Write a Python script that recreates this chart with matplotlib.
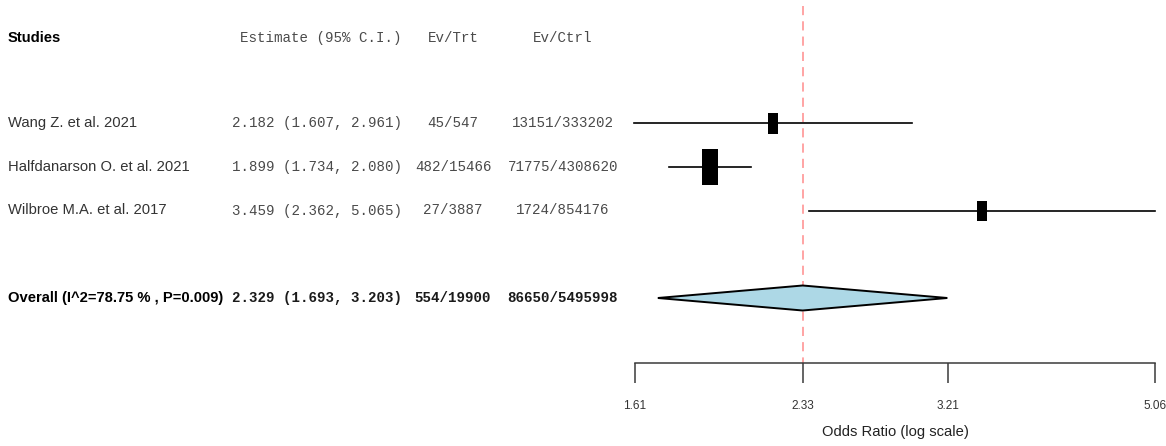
import numpy as np
import matplotlib
matplotlib.use("Agg")
import matplotlib.pyplot as plt
from matplotlib import font_manager
from matplotlib.transforms import blended_transform_factory
from matplotlib.patches import Polygon
from matplotlib.ticker import NullLocator

# ---- study data -------------------------------------------------------
studies = ["Wang Z. et al. 2021", "Halfdanarson O. et al. 2021", "Wilbroe M.A. et al. 2017"]
estimates = [2.182, 1.899, 3.459]
ci_lower = [1.607, 1.734, 2.362]
ci_upper = [2.961, 2.080, 5.065]
events_trt = [45, 482, 27]
total_trt = [547, 15466, 3887]
events_ctrl = [13151, 71775, 1724]
total_ctrl = [333202, 4308620, 854176]

# ---- pooled result ----------------------------------------------------
overall_est = 2.329
overall_lower = 1.693
overall_upper = 3.203
i_squared = 78.75
p_value = 0.009
overall_events_trt, overall_total_trt = 554, 19900
overall_events_ctrl, overall_total_ctrl = 86650, 5495998

tick_values = [1.61, 2.33, 3.21, 5.06]
tick_labels = ["1.61", "2.33", "3.21", "5.06"]

# ---- fonts --------------------------------------------------------------
installed = {f.name for f in font_manager.fontManager.ttflist}
if "Liberation Sans Narrow" in installed:
    SANS, sans_scale = "Liberation Sans Narrow", 1.0
else:
    SANS, sans_scale = "Liberation Sans", 0.82
MONO = "Liberation Mono"

W, H = 1166, 446
fig = plt.figure(figsize=(W / 100, H / 100), dpi=100)
fig.patch.set_facecolor("white")

# plot panel spans the log-scale axis region, full height; rows run downward
ROW0, ROWSTEP = 79.25, 43.75          # pixel position of row 0 and row spacing


def px_to_row(py):
    return (py - ROW0) / ROWSTEP


ax = fig.add_axes([635 / W, 0, 520 / W, 1])
ax.set_xscale("log")
ax.set_xlim(tick_values[0], tick_values[-1])
ax.set_ylim(px_to_row(H), px_to_row(0))
ax.set_facecolor("none")

for side in ("top", "left", "right"):
    ax.spines[side].set_visible(False)
axis_row = px_to_row(363)
ax.spines["bottom"].set_position(("data", axis_row))
ax.spines["bottom"].set_color("#3a3a3a")
ax.spines["bottom"].set_linewidth(1.1)
ax.yaxis.set_visible(False)
ax.xaxis.set_minor_locator(NullLocator())
ax.set_xticks(tick_values)
ax.set_xticklabels(tick_labels)
ax.tick_params(axis="x", direction="out", length=14.4, width=1.1, color="#3a3a3a",
               pad=12, labelsize=8.5, labelcolor="#333333")
for lab in ax.get_xticklabels():
    lab.set_fontfamily(SANS)

ax.text(0.5, px_to_row(432), "Odds Ratio (log scale)",
        transform=blended_transform_factory(ax.transAxes, ax.transData),
        ha="center", va="center", fontsize=13 * sans_scale, family=SANS, color="#222222")

study_rows = [1, 2, 3]
overall_row = 5

# reference line at the pooled estimate
ax.plot([overall_est, overall_est], [px_to_row(6), axis_row], color="#ff8c8c",
        lw=1.1, dashes=(6, 4), zorder=1, clip_on=False)

# confidence intervals and weighted boxes
box_heights_px = [21, 36, 20]
box_shape = [(-0.23, -0.5), (0.23, -0.5), (0.23, 0.5), (-0.23, 0.5)]
for r, est, lo, hi, bh in zip(study_rows, estimates, ci_lower, ci_upper, box_heights_px):
    ax.plot([lo, hi], [r, r], color="black", lw=1.2, zorder=2, clip_on=False)
    ax.plot([est], [r], marker=box_shape, markersize=bh * 0.72, color="black",
            markeredgewidth=0, linestyle="none", zorder=3, clip_on=False)

# pooled diamond
half_h = px_to_row(297 + 12.5) - px_to_row(297)
diamond = Polygon([(overall_lower, overall_row), (overall_est, overall_row - half_h),
                   (overall_upper, overall_row), (overall_est, overall_row + half_h)],
                  closed=True, facecolor="#add8e6", edgecolor="black", lw=1.4, zorder=3)
ax.add_patch(diamond)

# ---- text columns -----------------------------------------------------
tt = blended_transform_factory(fig.transFigure, ax.transData)
NAME_X = 8 / W
EST_RIGHT = 402 / W
TRT_CENTER = 453 / W
CTRL_CENTER = 563 / W
header_row = px_to_row(38)

name_kw = dict(family=SANS, fontsize=13 * sans_scale, va="center", transform=tt)
mono_kw = dict(family=MONO, fontsize=10.15, va="center", transform=tt)

ax.text(NAME_X, header_row, "Studies", weight="bold", color="black", **name_kw)
ax.text(EST_RIGHT, header_row, "Estimate (95% C.I.)", ha="right", color="#4a4a4a", **mono_kw)
ax.text(TRT_CENTER, header_row, "Ev/Trt", ha="center", color="#4a4a4a", **mono_kw)
ax.text(CTRL_CENTER, header_row, "Ev/Ctrl", ha="center", color="#4a4a4a", **mono_kw)

for r, name, est, lo, hi, et, nt, ec, nc in zip(study_rows, studies, estimates, ci_lower,
                                                ci_upper, events_trt, total_trt,
                                                events_ctrl, total_ctrl):
    ax.text(NAME_X, r, name, color="#333333", **name_kw)
    ax.text(EST_RIGHT, r, f"{est:.3f} ({lo:.3f}, {hi:.3f})", ha="right",
            color="#4a4a4a", **mono_kw)
    ax.text(TRT_CENTER, r, f"{et}/{nt}", ha="center", color="#4a4a4a", **mono_kw)
    ax.text(CTRL_CENTER, r, f"{ec}/{nc}", ha="center", color="#4a4a4a", **mono_kw)

ax.text(NAME_X, overall_row, f"Overall (I^2={i_squared:.2f} % , P={p_value:.3f})",
        weight="bold", color="black", **name_kw)
ax.text(EST_RIGHT, overall_row,
        f"{overall_est:.3f} ({overall_lower:.3f}, {overall_upper:.3f})",
        ha="right", weight="bold", color="#1a1a1a", **mono_kw)
ax.text(TRT_CENTER, overall_row, f"{overall_events_trt}/{overall_total_trt}",
        ha="center", weight="bold", color="#1a1a1a", **mono_kw)
ax.text(CTRL_CENTER, overall_row, f"{overall_events_ctrl}/{overall_total_ctrl}",
        ha="center", weight="bold", color="#1a1a1a", **mono_kw)

fig.savefig("out.png", dpi=100, facecolor="white")
